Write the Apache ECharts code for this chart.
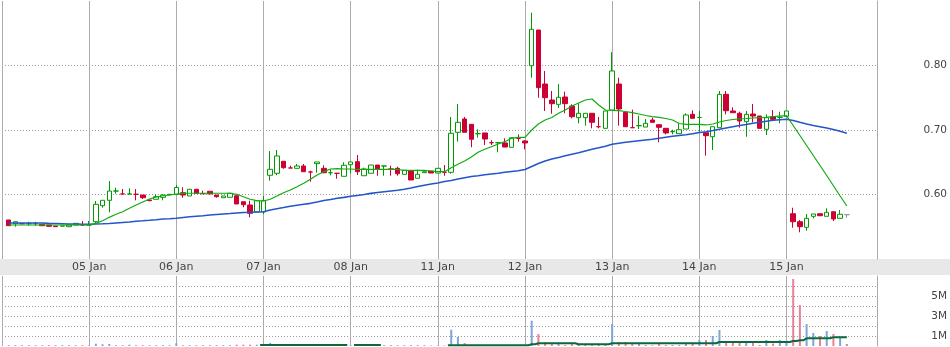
<!DOCTYPE html>
<html><head><meta charset="utf-8">
<script src="https://cdn.jsdelivr.net/npm/echarts@6/dist/echarts.min.js"></script>
<style>html,body{margin:0;padding:0;background:#fff}#c{width:950px;height:347px}</style>
</head><body><div id="c"></div>
<script>
// ---- data ----
const dayLabels = ['05 Jan','06 Jan','07 Jan','08 Jan','11 Jan','12 Jan','13 Jan','14 Jan','15 Jan'];
const daySlots  = [12, 25, 38, 51, 64, 77, 90, 103, 116];

const opens = [
0.5605,0.5547,0.5547,0.5547,0.5547,0.5538,0.5527,0.5511,0.5511,0.5501,0.5527,0.5527,0.5527,
0.5578,0.5826,0.5910,0.6054,0.6008,0.6008,0.6003,0.5992,0.5915,0.5926,0.5956,0.5995,
0.5999,0.6028,0.5977,0.6081,0.6013,0.6050,0.5992,0.5950,0.5957,0.5981,0.5888,0.5837,0.5729,
0.5729,0.6298,0.6329,0.6515,0.6411,0.6406,0.6442,0.6349,0.6478,0.6406,0.6338,0.6329,0.6282,
0.6462,0.6509,0.6291,0.6329,0.6457,0.6442,0.6395,0.6406,0.6313,0.6364,0.6251,0.6338,0.6364,
0.6333,0.6344,0.6344,0.6964,0.7171,0.7088,0.6943,0.6954,0.6803,0.6803,0.6799,0.6732,0.6871,
0.6830,0.7997,0.8550,0.7713,0.7465,0.7398,0.7512,0.7372,0.7191,0.7191,0.7259,0.7051,0.7026,
0.7310,0.7713,0.7274,0.7036,0.7067,0.7046,0.7155,0.7082,0.7026,0.6974,0.6943,0.7015,0.7243,
0.7194,0.6958,0.6896,0.7036,0.7553,0.7295,0.7259,0.7129,0.7248,0.7217,0.7011,0.7206,0.7197,
0.7212,0.5702,0.5578,0.5491,0.5662,0.5702,0.5662,0.5733,0.5631,0.5687];
const closes = [
0.5516,0.5578,0.5547,0.5547,0.5547,0.5516,0.5507,0.5501,0.5511,0.5527,0.5553,0.5527,0.5527,
0.5848,0.5910,0.6054,0.6054,0.6008,0.6008,0.6003,0.5950,0.5905,0.5966,0.5992,0.6003,
0.6109,0.5992,0.6081,0.6019,0.6013,0.6008,0.5966,0.5977,0.6019,0.5853,0.5842,0.5708,0.5904,
0.5904,0.6391,0.6597,0.6415,0.6411,0.6442,0.6353,0.6349,0.6504,0.6338,0.6338,0.6329,0.6453,
0.6504,0.6353,0.6395,0.6457,0.6395,0.6442,0.6395,0.6322,0.6375,0.6225,0.6313,0.6353,0.6333,
0.6406,0.6344,0.6949,0.7119,0.6964,0.6856,0.6943,0.6860,0.6803,0.6803,0.6736,0.6881,0.6871,
0.6799,0.8561,0.7656,0.7501,0.7408,0.7507,0.7408,0.7206,0.7259,0.7259,0.7119,0.7051,0.7295,
0.7915,0.7326,0.7051,0.7036,0.7067,0.7104,0.7119,0.7042,0.6954,0.6974,0.7005,0.7233,0.7181,
0.7194,0.6912,0.7051,0.7553,0.7299,0.7268,0.7140,0.7243,0.7217,0.7026,0.7191,0.7166,0.7197,
0.7295,0.5578,0.5501,0.5631,0.5698,0.5671,0.5724,0.5620,0.5693,0.5687];
const lows = [
0.5516,0.5501,0.5547,0.5516,0.5516,0.5516,0.5496,0.5501,0.5511,0.5501,0.5527,0.5527,0.5527,
0.5553,0.5795,0.5724,0.6012,0.6008,0.6008,0.5910,0.5930,0.5895,0.5926,0.5910,0.5995,
0.5999,0.5950,0.5977,0.6019,0.6013,0.6008,0.5950,0.5950,0.5957,0.5853,0.5802,0.5647,0.5729,
0.5698,0.6214,0.6298,0.6400,0.6411,0.6406,0.6353,0.6198,0.6338,0.6329,0.6298,0.6245,0.6282,
0.6329,0.6302,0.6291,0.6329,0.6291,0.6291,0.6291,0.6291,0.6313,0.6225,0.6251,0.6338,0.6333,
0.6333,0.6291,0.6322,0.6819,0.6964,0.6732,0.6881,0.6767,0.6767,0.6654,0.6736,0.6732,0.6819,
0.6700,0.7811,0.7501,0.7295,0.7253,0.7341,0.7259,0.7181,0.7104,0.7067,0.7026,0.7026,0.7026,
0.7295,0.7067,0.7051,0.7036,0.7015,0.7046,0.7119,0.6809,0.6933,0.6933,0.6943,0.7015,0.7181,
0.6974,0.6602,0.6690,0.7036,0.7243,0.7268,0.7036,0.6896,0.7119,0.7026,0.6922,0.7145,0.7104,
0.7212,0.5485,0.5414,0.5439,0.5631,0.5666,0.5662,0.5589,0.5631,0.5640];
const highs = [
0.5605,0.5578,0.5547,0.5578,0.5578,0.5538,0.5527,0.5511,0.5511,0.5527,0.5553,0.5589,0.5589,
0.5899,0.5910,0.6209,0.6105,0.6085,0.6096,0.6085,0.5992,0.5915,0.6003,0.6003,0.6003,
0.6147,0.6112,0.6081,0.6081,0.6059,0.6050,0.5992,0.5977,0.6019,0.5981,0.5888,0.5904,0.5904,
0.5977,0.6674,0.6690,0.6515,0.6447,0.6473,0.6473,0.6369,0.6504,0.6453,0.6391,0.6329,0.6499,
0.6504,0.6612,0.6416,0.6457,0.6457,0.6442,0.6447,0.6431,0.6375,0.6364,0.6385,0.6353,0.6364,
0.6406,0.6457,0.7202,0.7403,0.7202,0.7088,0.7011,0.6954,0.6840,0.6803,0.6871,0.6881,0.6933,
0.6840,0.8819,0.8550,0.7915,0.7605,0.7713,0.7594,0.7398,0.7414,0.7259,0.7259,0.7202,0.7295,
0.8205,0.7811,0.7295,0.7315,0.7222,0.7171,0.7191,0.7082,0.7026,0.7005,0.7104,0.7259,0.7305,
0.7295,0.6958,0.7051,0.7605,0.7605,0.7352,0.7284,0.7295,0.7403,0.7217,0.7243,0.7310,0.7284,
0.7295,0.5795,0.5605,0.5698,0.5698,0.5702,0.5786,0.5733,0.5760,0.5687];
const greySlots = [125];

const maShort = [
0.5527,0.5527,0.5527,0.5527,0.5527,0.5527,0.5527,0.5527,0.5527,0.5527,0.5527,0.5527,0.5527,
0.5553,0.5594,0.5646,0.5693,0.5733,0.5786,0.5837,0.5884,0.5930,0.5961,0.5981,0.5992,
0.6008,0.6016,0.6019,0.6019,0.6019,0.6019,0.6019,0.6019,0.6019,0.6003,0.5966,0.5926,0.5904,
0.5899,0.5926,0.5977,0.6028,0.6070,0.6121,0.6174,0.6236,0.6302,0.6354,0.6395,0.6400,0.6395,
0.6395,0.6388,0.6388,0.6388,0.6388,0.6388,0.6388,0.6388,0.6375,0.6375,0.6375,0.6375,0.6364,
0.6354,0.6354,0.6416,0.6468,0.6519,0.6581,0.6654,0.6701,0.6741,0.6783,0.6819,0.6871,0.6887,
0.6887,0.7000,0.7093,0.7155,0.7194,0.7259,0.7310,0.7372,0.7419,0.7465,0.7481,0.7388,0.7310,
0.7302,0.7299,0.7287,0.7268,0.7248,0.7225,0.7206,0.7197,0.7178,0.7155,0.7101,0.7088,0.7088,
0.7088,0.7078,0.7093,0.7124,0.7147,0.7163,0.7171,0.7178,0.7186,0.7191,0.7197,0.7206,0.7217,
0.7222,0.7070,0.6915,0.6760,0.6605,0.6450,0.6295,0.6135,0.5977,0.5822];
const maLong = [
0.5558,0.5558,0.5558,0.5558,0.5558,0.5558,0.5553,0.5550,0.5547,0.5543,0.5543,0.5538,0.5538,
0.5543,0.5546,0.5550,0.5558,0.5566,0.5574,0.5585,0.5592,0.5600,0.5609,0.5620,0.5625,
0.5631,0.5643,0.5654,0.5663,0.5671,0.5682,0.5690,0.5698,0.5705,0.5713,0.5721,0.5724,0.5729,
0.5733,0.5760,0.5780,0.5798,0.5817,0.5834,0.5849,0.5863,0.5884,0.5907,0.5922,0.5941,0.5956,
0.5973,0.5984,0.5999,0.6018,0.6031,0.6043,0.6054,0.6065,0.6081,0.6101,0.6124,0.6144,0.6163,
0.6178,0.6202,0.6217,0.6240,0.6260,0.6279,0.6291,0.6305,0.6318,0.6330,0.6344,0.6357,0.6369,
0.6388,0.6434,0.6481,0.6519,0.6550,0.6574,0.6600,0.6625,0.6646,0.6674,0.6701,0.6724,0.6749,
0.6778,0.6794,0.6809,0.6822,0.6834,0.6845,0.6856,0.6871,0.6887,0.6902,0.6915,0.6927,0.6941,
0.6961,0.6974,0.6992,0.7011,0.7031,0.7051,0.7070,0.7085,0.7104,0.7119,0.7135,0.7150,0.7160,
0.7167,0.7147,0.7119,0.7093,0.7070,0.7051,0.7031,0.7008,0.6980,0.6949];

// volume in millions
const volumes = [
0.08,0.08,0.08,0.08,0.08,0.08,0.08,0.08,0.08,0.08,0.08,0.08,0.08,
0.23,0.17,0.20,0.08,0.08,0.13,0.08,0.08,0.08,0.08,0.08,0.08,
0.27,0.08,0.08,0.08,0.08,0.08,0.08,0.08,0.08,0.13,0.13,0.13,0.13,
0.10,0.30,0.20,0.08,0.08,0.08,0.08,0.08,0.08,0.08,0.08,0.08,0.08,
0.08,0.08,0.08,0.08,0.08,0.08,0.08,0.08,0.08,0.08,0.08,0.08,0.05,
0.05,0.05,1.63,0.90,0.30,0.07,0.07,0.07,0.07,0.07,0.07,0.07,0.07,
0.07,2.53,1.20,0.40,0.23,0.23,0.10,0.20,0.10,0.10,0.10,0.10,0.10,
2.20,0.40,0.40,0.25,0.25,0.10,0.07,0.25,0.10,0.10,0.10,0.25,0.25,
0.60,0.60,1.00,1.60,0.40,0.40,0.40,0.50,0.40,0.10,0.60,0.25,0.60,
0.40,6.70,4.10,2.20,1.30,1.00,1.50,1.20,0.90,0.20];
const volMA = [
null,null,null,null,null,null,null,null,null,null,null,null,null,
null,null,null,null,null,null,null,null,null,null,null,null,
null,null,null,null,null,null,null,null,null,null,null,null,null,
0.10,0.10,0.10,0.10,0.10,0.10,0.10,0.10,0.10,0.10,0.10,0.10,0.10,
null,0.10,0.10,0.10,0.10,null,null,null,null,null,null,null,null,
null,null,0.07,0.07,0.07,0.07,0.07,0.07,0.07,0.07,0.07,0.07,0.07,
0.07,0.17,0.27,0.27,0.27,0.27,0.27,0.27,0.17,0.17,0.17,0.17,0.17,
0.27,0.27,0.27,0.27,0.27,0.27,0.27,0.27,0.27,0.27,0.27,0.27,0.27,
0.27,0.27,0.27,0.40,0.40,0.40,0.40,0.40,0.40,0.40,0.40,0.40,0.40,
0.40,0.50,0.57,0.77,0.77,0.77,0.77,0.87,0.87,0.87];

const yPriceTicks = [0.6, 0.7, 0.8];
const yVolLabels = [1, 3, 5];

// ---- build ----
const UP = '#009a00', DOWN = '#cc0033', GREY = '#9a9a9a';
const VOL_UP = '#7aa7d8', VOL_DOWN = '#ea8098';
function sign(i) {
  if (closes[i] > opens[i]) return 1;
  if (closes[i] < opens[i]) return -1;
  return (i > 0 && closes[i - 1] > closes[i]) ? -1 : 1;
}
const candleData = opens.map((o, i) => {
  const it = { value: [i, o, closes[i], lows[i], highs[i]] };
  if (greySlots.includes(i)) it.itemStyle = { color: GREY, color0: GREY, borderColor: GREY, borderColor0: GREY };
  return it;
});
const volData = volumes.map((v, i) => ({
  value: [i, v],
  itemStyle: { color: greySlots.includes(i) ? GREY : (sign(i) > 0 ? VOL_UP : VOL_DOWN) }
}));

const FONT = 'DejaVu Sans';
const xCommon = {
  type: 'value', min: -1, max: 129.5,
  axisLine: { show: false, onZero: false },
  axisTick: { show: false, customValues: [-1].concat(daySlots) },
  splitLine: { show: true, lineStyle: { color: '#ababab', width: 1 } }
};

const chart = echarts.init(document.getElementById('c'), null, { renderer: 'canvas' });
chart.setOption({
  animation: false,
  backgroundColor: '#fff',
  graphic: [{ type: 'rect', z: -100, silent: true, shape: { x: 0, y: 259, width: 950, height: 16 }, style: { fill: '#e8e8e8' } }],
  grid: [
    { left: 2, top: 1, width: 876.3, height: 258 },
    { left: 2, top: 276, width: 876.3, height: 70 }
  ],
  xAxis: [
    Object.assign({}, xCommon, {
      gridIndex: 0, position: 'bottom',
      axisLabel: { show: true, customValues: daySlots, margin: 3, color: '#444', fontSize: 11, fontFamily: FONT,
        formatter: v => dayLabels[daySlots.indexOf(v)] || '' }
    }),
    Object.assign({}, xCommon, { gridIndex: 1, axisLabel: { show: false } })
  ],
  yAxis: [
    { type: 'value', gridIndex: 0, position: 'right', min: 0.5, max: 0.9, interval: 0.1,
      axisLine: { show: true, onZero: false, lineStyle: { color: '#ababab' } }, axisTick: { show: false },
      axisLabel: { show: true, showMinLabel: false, showMaxLabel: false, align: 'right', margin: 70,
        color: '#444', fontSize: 10.5, fontFamily: FONT,
        formatter: v => yPriceTicks.some(t => Math.abs(t - v) < 1e-6) ? v.toFixed(2) : '' },
      splitLine: { show: true, showMinLine: false, showMaxLine: false, lineStyle: { color: '#9a9a9a', type: [1, 2], width: 1 } } },
    { type: 'value', gridIndex: 1, position: 'right', min: 0, max: 7, interval: 1,
      axisLine: { show: true, onZero: false, lineStyle: { color: '#ababab' } }, axisTick: { show: false },
      axisLabel: { show: true, showMinLabel: false, showMaxLabel: false, align: 'right', margin: 70,
        color: '#444', fontSize: 10.5, fontFamily: FONT,
        formatter: v => yVolLabels.includes(Math.round(v)) ? Math.round(v) + 'M' : '' },
      splitLine: { show: true, showMinLine: false, showMaxLine: false, lineStyle: { color: '#9a9a9a', type: [1, 2], width: 1 } } }
  ],
  series: [
    { type: 'candlestick', xAxisIndex: 0, yAxisIndex: 0, data: candleData, barWidth: 5, z: 3,
      itemStyle: { color: '#ffffff', color0: DOWN, borderColor: UP, borderColor0: DOWN, borderWidth: 1 } },
    { type: 'line', xAxisIndex: 0, yAxisIndex: 0, data: maLong.map((v, i) => [i, v]), symbol: 'none', z: 4,
      lineStyle: { color: '#2356c9', width: 1.6 } },
    { type: 'line', xAxisIndex: 0, yAxisIndex: 0, data: maShort.map((v, i) => [i, v]), symbol: 'none', z: 5,
      lineStyle: { color: '#11aa11', width: 1.2 } },
    { type: 'bar', xAxisIndex: 1, yAxisIndex: 1, data: volData, barWidth: 2, z: 3 },
    { type: 'line', xAxisIndex: 1, yAxisIndex: 1, data: volMA.map((v, i) => [i, v]), symbol: 'none', step: 'middle', z: 4,
      connectNulls: false, lineStyle: { color: '#0b6a3c', width: 2 } }
  ]
});
</script>
</body></html>
